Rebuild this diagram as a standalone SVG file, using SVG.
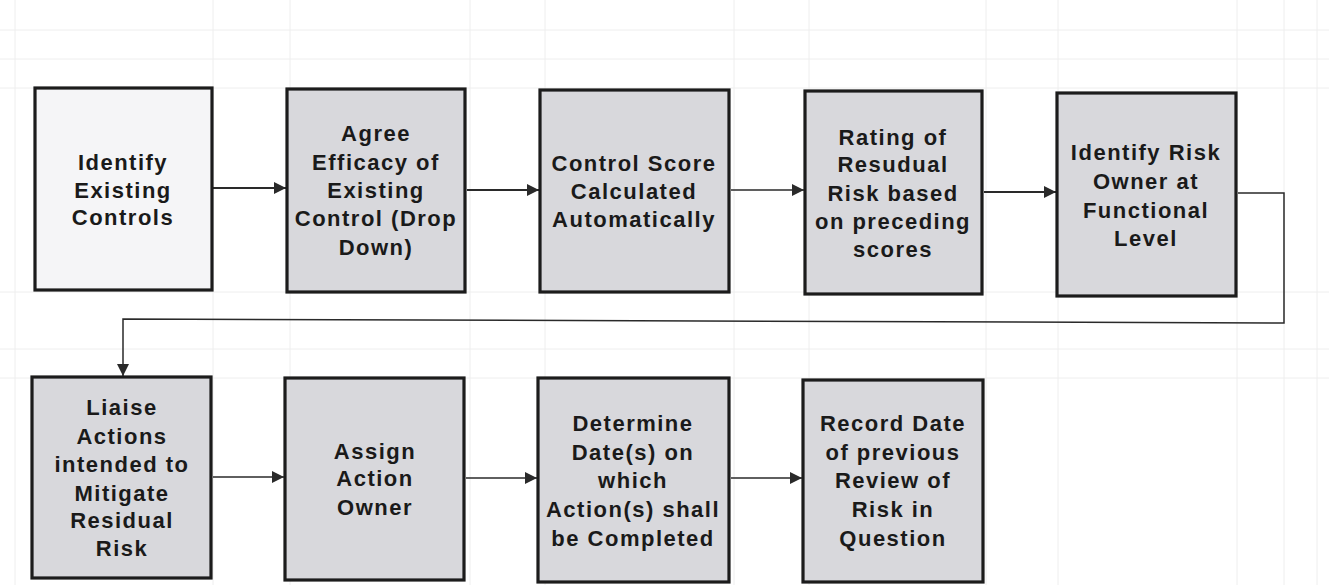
<svg xmlns="http://www.w3.org/2000/svg" width="1329" height="585" viewBox="0 0 1329 585">
  <style>
    .grid line { stroke: #eeeeee; stroke-width: 1; }
    .box { fill: #d8d8dc; stroke: #1c1c1c; stroke-width: 3.2; }
    .box.first { fill: #f5f5f7; }
    .lbl { font-family: "Liberation Sans", Arial, sans-serif; font-weight: bold; font-size: 22px; letter-spacing: 1.5px; fill: #1a1a1a; text-anchor: middle; }
    .conn { fill: none; stroke: #2a2a2a; stroke-width: 2; }
    .conn.thin { stroke-width: 1.5; }
  </style>
  <defs>
    <marker id="arrowL" viewBox="0 0 10 10" refX="10" refY="5" markerWidth="14" markerHeight="12" markerUnits="userSpaceOnUse" orient="auto">
      <path d="M0,0 L10,5 L0,10 Z" fill="#2a2a2a"/>
    </marker>
  </defs>

  <rect width="1329" height="585" fill="#ffffff"/>

  <!-- faint spreadsheet cell grid behind the flow -->
  <g class="grid">
    <line x1="0" y1="30" x2="1329" y2="30"/>
    <line x1="0" y1="59" x2="1329" y2="59"/>
    <line x1="0" y1="88" x2="1329" y2="88"/>
    <line x1="0" y1="292" x2="1329" y2="292"/>
    <line x1="0" y1="349" x2="1329" y2="349"/>
    <line x1="0" y1="378" x2="1329" y2="378"/>
    <line x1="15" y1="0" x2="15" y2="585"/>
    <line x1="213" y1="0" x2="213" y2="585"/>
    <line x1="290" y1="0" x2="290" y2="585"/>
    <line x1="470" y1="0" x2="470" y2="585"/>
    <line x1="545" y1="0" x2="545" y2="585"/>
    <line x1="734" y1="0" x2="734" y2="585"/>
    <line x1="809" y1="0" x2="809" y2="585"/>
    <line x1="986" y1="0" x2="986" y2="585"/>
    <line x1="1058" y1="0" x2="1058" y2="585"/>
    <line x1="1237" y1="0" x2="1237" y2="585"/>
    <line x1="1284" y1="0" x2="1284" y2="585"/>
    <line x1="1317" y1="0" x2="1317" y2="585"/>
  </g>

  <!-- connectors -->
  <g id="connectors">
    <line class="conn" x1="213" y1="188" x2="286" y2="188" marker-end="url(#arrowL)"/>
    <line class="conn" x1="467" y1="190" x2="539" y2="190" marker-end="url(#arrowL)"/>
    <line class="conn thin" x1="731" y1="190" x2="804" y2="190" marker-end="url(#arrowL)"/>
    <line class="conn" x1="984" y1="192" x2="1056" y2="192" marker-end="url(#arrowL)"/>
    <polyline class="conn thin" points="1238,193 1284,193 1284,323 123,319 123,376" marker-end="url(#arrowL)"/>
    <line class="conn thin" x1="213" y1="477" x2="284" y2="477" marker-end="url(#arrowL)"/>
    <line class="conn thin" x1="466" y1="478" x2="537" y2="478" marker-end="url(#arrowL)"/>
    <line class="conn thin" x1="731" y1="478" x2="802" y2="478" marker-end="url(#arrowL)"/>
  </g>

  <g id="identify-controls">
    <rect class="box first" x="35" y="88" width="177" height="202"/>
    <text class="lbl"><tspan x="123" y="170">Identify</tspan><tspan x="123" y="198">Existing</tspan><tspan x="123" y="225">Controls</tspan></text>
  </g>

  <g id="agree-efficacy">
    <rect class="box" x="287" y="89" width="178" height="203"/>
    <text class="lbl"><tspan x="376" y="141">Agree</tspan><tspan x="376" y="170">Efficacy  of</tspan><tspan x="376" y="198">Existing</tspan><tspan x="376" y="226">Control (Drop</tspan><tspan x="376" y="255">Down)</tspan></text>
  </g>

  <g id="control-score">
    <rect class="box" x="540" y="90" width="189" height="202"/>
    <text class="lbl"><tspan x="634" y="171">Control Score</tspan><tspan x="634" y="199">Calculated</tspan><tspan x="634" y="227">Automatically</tspan></text>
  </g>

  <g id="residual-rating">
    <rect class="box" x="805" y="91" width="177" height="203"/>
    <text class="lbl"><tspan x="893" y="145">Rating of</tspan><tspan x="893" y="172">Resudual</tspan><tspan x="893" y="201">Risk based</tspan><tspan x="893" y="229">on preceding</tspan><tspan x="893" y="257">scores</tspan></text>
  </g>

  <g id="risk-owner">
    <rect class="box" x="1057" y="93" width="179" height="203"/>
    <text class="lbl"><tspan x="1146" y="160">Identify Risk</tspan><tspan x="1146" y="189">Owner at</tspan><tspan x="1146" y="218">Functional</tspan><tspan x="1146" y="246">Level</tspan></text>
  </g>

  <g id="liaise-actions">
    <rect class="box" x="32" y="377" width="179" height="201"/>
    <text class="lbl"><tspan x="122" y="415">Liaise</tspan><tspan x="122" y="444">Actions</tspan><tspan x="122" y="472">intended to</tspan><tspan x="122" y="501">Mitigate</tspan><tspan x="122" y="528">Residual</tspan><tspan x="122" y="556">Risk</tspan></text>
  </g>

  <g id="assign-owner">
    <rect class="box" x="285" y="378" width="179" height="202"/>
    <text class="lbl"><tspan x="375" y="459">Assign</tspan><tspan x="375" y="486">Action</tspan><tspan x="375" y="515">Owner</tspan></text>
  </g>

  <g id="completion-dates">
    <rect class="box" x="538" y="378" width="191" height="204"/>
    <text class="lbl"><tspan x="633" y="431">Determine</tspan><tspan x="633" y="460">Date(s) on</tspan><tspan x="633" y="488">which</tspan><tspan x="633" y="517">Action(s) shall</tspan><tspan x="633" y="546">be Completed</tspan></text>
  </g>

  <g id="previous-review">
    <rect class="box" x="803" y="380" width="180" height="202"/>
    <text class="lbl"><tspan x="893" y="431">Record Date</tspan><tspan x="893" y="460">of previous</tspan><tspan x="893" y="488">Review of</tspan><tspan x="893" y="517">Risk in</tspan><tspan x="893" y="546">Question</tspan></text>
  </g>
</svg>
